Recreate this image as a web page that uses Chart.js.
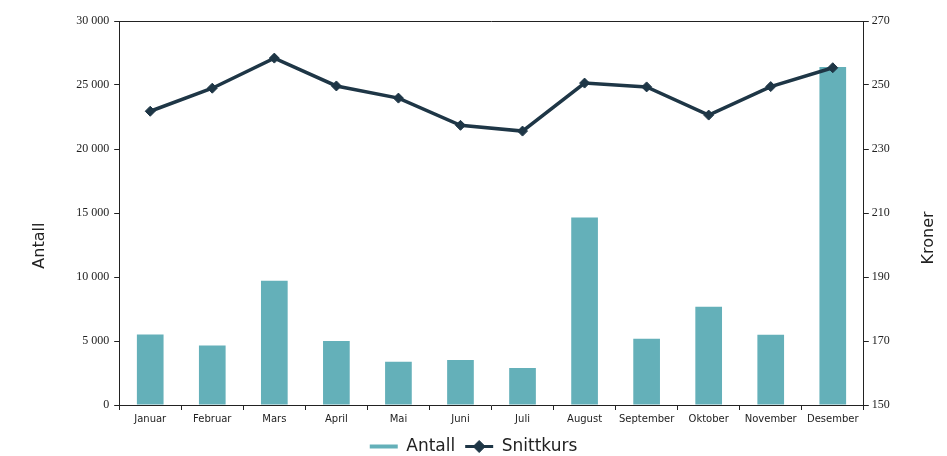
<!DOCTYPE html>
<html>
<head>
<meta charset="utf-8">
<script src="https://cdn.jsdelivr.net/npm/chart.js@4/dist/chart.umd.min.js"></script>
<style>
  html, body { margin: 0; padding: 0; background: #fff; }
  #wrap { width: 947px; height: 456px; }
</style>
</head>
<body>
<div id="wrap"><canvas id="myChart" width="947" height="456"></canvas></div>
<script>
// months (Norwegian)
var maaneder = ['Januar', 'Februar', 'Mars', 'April', 'Mai', 'Juni', 'Juli', 'August', 'September', 'Oktober', 'November', 'Desember'];
// number of sales per month
var antall = [5500, 4650, 9700, 5000, 3370, 3520, 2900, 14650, 5170, 7670, 5480, 26400];
// average price, kroner
var snittkurs = [241.8, 249.0, 258.4, 249.7, 245.9, 237.4, 235.6, 250.6, 249.4, 240.6, 249.5, 255.4];

var teal = '#64b0b9';
var dark = '#1e3646';
var tittelFont = { family: 'DejaVu Sans', size: 16 };

function mellomrom(v) {
    return String(v).replace(/\B(?=(\d{3})+(?!\d))/g, ' ');
}

// draw a rotated axis title (both read bottom-to-top, sitting a bit below the middle)
function aksetittel(c, s, x, andel) {
    var a = s.chart.chartArea;
    c.save();
    c.fillStyle = '#222';
    c.font = tittelFont.size + 'px "' + tittelFont.family + '"';
    c.textAlign = 'center';
    c.textBaseline = 'middle';
    c.translate(x, a.top + (a.bottom - a.top) * andel);
    c.rotate(-Math.PI / 2);
    c.fillText(s.options.title.text, 0, 0);
    c.restore();
}

var rammePlugin = {
    id: 'ramme',
    afterDraw: function (chart) {
        var c = chart.ctx, a = chart.chartArea;
        c.save();
        c.strokeStyle = '#222';
        c.lineWidth = 1;
        c.beginPath();
        c.moveTo(a.left, a.top + 0.5);
        c.lineTo(a.right, a.top + 0.5);
        c.stroke();
        c.restore();

        var half = tittelFont.size * 1.2 / 2;
        var sl = chart.scales.y, sr = chart.scales.yKr;
        aksetittel(c, sl, sl.left + sl.options.title.padding.top + half, 0.585);
        aksetittel(c, sr, sr.right - sr.options.title.padding.top - half, 0.565);

        // diamond on the Snittkurs legend line
        var hb = chart.legend.legendHitBoxes[1];
        if (hb) {
            c.save();
            c.fillStyle = dark;
            c.strokeStyle = dark;
            c.lineWidth = 1;
            Chart.helpers.drawPoint(c, { pointStyle: 'rectRot', radius: 6, borderWidth: 1 },
                hb.left + 14, hb.top + hb.height / 2);
            c.restore();
        }
    }
};

var ctx = document.getElementById('myChart').getContext('2d');
var myChart = new Chart(ctx, {
    type: 'bar',
    data: {
        labels: maaneder,
        datasets: [{
            type: 'line',
            label: 'Snittkurs',
            data: snittkurs,
            yAxisID: 'yKr',
            borderColor: dark,
            backgroundColor: dark,
            borderWidth: 3.5,
            pointStyle: 'rectRot',
            pointRadius: 5,
            pointBorderWidth: 1,
            tension: 0,
            order: 0
        }, {
            label: 'Antall',
            data: antall,
            yAxisID: 'y',
            backgroundColor: teal,
            borderWidth: 0,
            categoryPercentage: 1,
            barPercentage: 0.43,
            order: 1
        }]
    },
    options: {
        responsive: false,
        animation: false,
        layout: { padding: { top: 21, left: 0, right: 0, bottom: -9 } },
        plugins: {
            tooltip: { enabled: false },
            legend: {
                position: 'bottom',
                reverse: true,
                labels: {
                    usePointStyle: true,
                    pointStyleWidth: 28,
                    boxHeight: 8,
                    padding: 10,
                    color: '#222',
                    font: { family: 'DejaVu Sans', size: 17 },
                    generateLabels: function (chart) {
                        var items = Chart.defaults.plugins.legend.labels.generateLabels(chart);
                        items.forEach(function (it) {
                            it.pointStyle = 'line';
                            if (it.text === 'Antall') {
                                it.strokeStyle = teal;
                                it.lineWidth = 4;
                            } else {
                                it.strokeStyle = dark;
                                it.lineWidth = 3;
                            }
                        });
                        return items;
                    }
                }
            }
        },
        scales: {
            x: {
                grid: { display: true, drawOnChartArea: false, drawTicks: true, tickLength: 5, color: '#222', offset: true },
                border: { display: true, color: '#222', width: 1 },
                ticks: { color: '#222', font: { family: 'DejaVu Sans', size: 10 }, padding: 3, maxRotation: 0, autoSkip: false }
            },
            y: {
                position: 'left',
                min: 0,
                max: 30000,
                grid: { display: true, drawOnChartArea: false, drawTicks: true, tickLength: 5, color: '#222' },
                border: { display: true, color: '#222', width: 1 },
                ticks: {
                    stepSize: 5000,
                    color: '#222',
                    padding: 5,
                    font: { family: 'Liberation Serif', size: 12 },
                    callback: function (v) { return mellomrom(v); }
                },
                title: {
                    display: true,
                    text: 'Antall',
                    color: 'rgba(0,0,0,0)',
                    font: tittelFont,
                    padding: { top: 30, bottom: 22 }
                }
            },
            yKr: {
                position: 'right',
                min: 150,
                max: 270,
                grid: { display: true, drawOnChartArea: false, drawTicks: true, tickLength: 5, color: '#222' },
                border: { display: true, color: '#222', width: 1 },
                ticks: {
                    stepSize: 20,
                    color: '#222',
                    padding: 3,
                    font: { family: 'Liberation Serif', size: 12 }
                },
                title: {
                    display: true,
                    text: 'Kroner',
                    color: 'rgba(0,0,0,0)',
                    font: tittelFont,
                    padding: { top: 9, bottom: 26 }
                }
            }
        }
    },
    plugins: [rammePlugin]
});
</script>
</body>
</html>
